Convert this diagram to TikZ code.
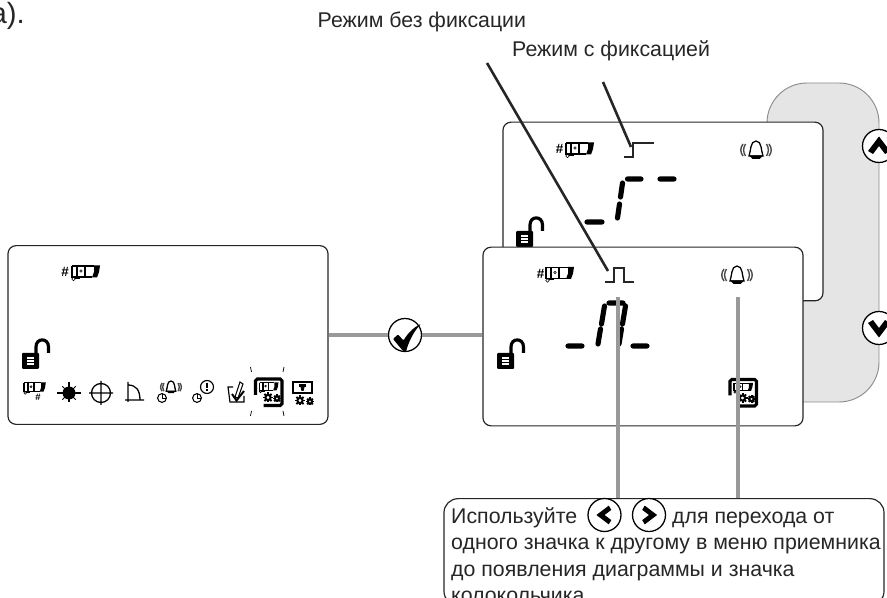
\documentclass[tikz,border=0pt]{standalone}
\usepackage{fontspec}
\setmainfont{Liberation Sans}
\tikzset{
  lcdPanel/.style={rectangle, draw=black!85, fill=white, line width=1pt, rounded corners=0.24cm, minimum width=9.6cm, minimum height=5.36cm, inner sep=0pt},
  sidePanel/.style={draw=black!45, fill=black!10, line width=0.8pt, rounded corners=1.2cm},
  btnCircle/.style={circle, draw=black, fill=white, line width=1.1pt, minimum size=0.99cm, inner sep=0pt},
  helpBox/.style={rectangle, draw=black!85, fill=white, line width=1pt, rounded corners=0.42cm, minimum width=13.2cm, minimum height=3.2cm, inner sep=0pt},
  leadBlack/.style={draw=black!85, line width=2.2pt},
  leadGrey/.style={draw=black!40, line width=2.8pt},
  segLine/.style={line width=4.4pt, line cap=round},
  helpText/.style={anchor=base west, inner sep=0pt, font=\fontsize{18.2}{22.6}\selectfont, text=black!85},
  hashText/.style={inner sep=0pt, font=\bfseries\fontsize{11.5}{12}\selectfont},
  % icons, origin at the top left corner of each one
  lockIcon/.pic={
    \fill[black, rounded corners=0.03cm] (0,0) -- (0,16) -- (17,16) -- (17,0) -- cycle;
    \foreach \barY in {5,8,11} { \draw[white, line width=1pt] (5,\barY) -- (12,\barY); }
    \draw[black, line width=2.7pt] (14,0) -- (14,-6) .. controls (14,-15.5) and (26.5,-15.5) .. (26.5,-6) -- (26.5,0);
  },
  camIcon/.pic={
    \draw[black, line width=1.1pt] (0,1) -- (22,1) (0,1) -- (0,12) -- (20,12);
    \draw[black, line width=1.1pt] (5,1) -- (5,12) (13,1) -- (13,12);
    \draw[black, line width=0.5pt] (9,6) circle (1.3);
    \fill[black] (22,0.5) -- (28,0.5) -- (27,7) -- (25,12.5) -- (20,12.5) -- (22,7) -- cycle;
    \draw[black, line width=0.5pt] (1.5,14) circle (1.7);
    \draw[black, line width=1.2pt] (3,13) -- (8,13);
  },
  bellIcon/.pic={
    \draw[black, line width=1.1pt] (-7,15) .. controls (-5,10) and (-6,0) .. (0,0) .. controls (6,0) and (5,10) .. (7,15) -- cycle;
    \fill[black] (-7,14.5) -- (7,14.5) -- (3.5,18) -- (-3.5,18) -- cycle;
    \foreach \waveS in {-1,1} {
      \draw[black!70, line width=1.2pt] (\waveS*10.5,3) .. controls (\waveS*13,7) and (\waveS*13,11) .. (\waveS*10.5,15);
      \draw[black!70, line width=1.2pt] (\waveS*13,3) .. controls (\waveS*16,7) and (\waveS*16,11) .. (\waveS*13,15);
    }
  },
  gearIcon/.pic={
    \foreach \toothA in {0,45,...,315} { \draw[black, line width=1.7pt] (\toothA:1.5) -- (\toothA:5); }
    \draw[black, fill=white, line width=1.7pt] (0,0) circle (2.6);
  },
  clockIcon/.pic={
    \draw[black, line width=0.9pt] (0,0) circle (4.4);
    \draw[black, line width=0.8pt] (0,-4) -- (0,0) -- (4,0);
  },
  frameIcon/.pic={
    \draw[black, line width=2.6pt, rounded corners=0.05cm] (1,17) -- (1,1) -- (27.5,1) -- (27.5,27.5) -- (9,27.5);
    \pic[scale=0.68] at (5,4) {camIcon};
    \pic at (13.5,19.5) {gearIcon};
    \pic[scale=0.8] at (22.5,20.5) {gearIcon};
  },
  chevIcon/.pic={
    \fill[black] (0,-9.5) -- (11,5) -- (6,8) -- (0,0) -- (-6,8) -- (-11,5) -- cycle;
  },
}
\begin{document}
\begin{tikzpicture}[x=0.03cm, y=-0.03cm]
  \clip (0,0) rectangle (887,598);

  \node[inner sep=0pt, anchor=base east, font=\fontsize{25}{28}\selectfont, text=black!85] (pageEnd) at (25,24) {а).};
  \node[helpText] (pulseLabel) at (317.5,28) {Режим без фиксации};
  \node[helpText] (stepLabel) at (512,57) {Режим с фиксацией};

  % side panel with the two buttons
  \draw[sidePanel] (767,130) -- (767,83) -- (879,83) -- (879,402) -- (790,402);
  \node[btnCircle] (upBtn) at (879,146) {};
  \node[btnCircle] (downBtn) at (879,328) {};
  \pic at (upBtn) {chevIcon};
  \pic[rotate=180] at (downBtn) {chevIcon};

  \node[lcdPanel] (backPanel) at (663,211.5) {};
  \node[lcdPanel] (leftPanel) at (168,335) {};

  % back screen
  \node[hashText] (backHash) at (559.5,149) {\#};
  \pic at (566,142) {camIcon};
  \draw[black!85, line width=1.1pt] (624,157) -- (633,157) -- (633,143) -- (654,143);
  \pic at (756,141) {bellIcon};
  \draw[segLine] (587,222) -- (602,222) (622.5,183) -- (620.5,197) (619.5,204) -- (617.5,218) (627.5,179) -- (641,179) (660,179) -- (674,179);
  \pic at (516,231) {lockIcon};

  \node[lcdPanel] (frontPanel) at (643,336.5) {};

  % front screen
  \node[hashText] (frontHash) at (540.5,273.5) {\#};
  \pic at (546,266.5) {camIcon};
  \draw[black!85, line width=1.1pt] (605,282) -- (614,282) -- (614,268) -- (624,268) -- (624,282) -- (634,282);
  \pic at (737,266) {bellIcon};
  \draw[segLine] (568,346) -- (582,346) (633,346) -- (647,346) (609,303) -- (623,303) (604.5,306) -- (601.5,324) (600.5,329) -- (598,344) (625.5,306) -- (622.5,324) (621.5,329) -- (619,344);
  \pic at (497,353) {lockIcon};
  \pic at (729,378.5) {frameIcon};

  % left screen
  \node[hashText] (leftHash) at (65,272) {\#};
  \pic at (72,265) {camIcon};
  \pic at (22,353) {lockIcon};
  \pic[scale=0.78] at (24,382) {camIcon};
  \node[hashText, font=\bfseries\fontsize{8}{8}\selectfont] (rowHash) at (38,397) {\#};
  % sun
  \fill[black] (69,393) circle (6.5);
  \foreach \rayA in {0,45,...,315} { \draw[black, line width=0.9pt] (69,393) -- ++(\rayA:9.5); }
  \draw[black, line width=0.9pt] (57,393) -- (81,393) (69,382) -- (69,402);
  % target
  \draw[black, line width=1.1pt] (101,393) circle (9.5) (89,393) -- (113,393) (101,381) -- (101,405);
  % gate
  \draw[black, line width=1.1pt] (128,382) -- (128,402) (125,400) -- (144,400) (128,385) .. controls (136,385) and (140,390) .. (140,400);
  % bell with clock
  \pic[scale=0.68] at (171,381) {bellIcon};
  \pic at (162,398) {clockIcon};
  % clock with warning
  \draw[black, line width=1pt] (207,387) circle (6.5);
  \draw[black, line width=1.5pt] (207,383) -- (207,388) (207,389.5) -- (207,391);
  \pic at (197,398) {clockIcon};
  % note with tick
  \draw[black, line width=1pt] (233,387) -- (228,387) -- (230,402) -- (244,402) -- (244,396);
  \draw[black, line width=0.9pt] (235,397) -- (240,382) -- (243,384) -- (238,398) -- cycle;
  \draw[black, line width=1.7pt] (232,394) -- (236.5,400.5) -- (244,391);
  % selected icon
  \pic at (254.5,378) {frameIcon};
  \draw[black, line width=0.6pt] (250.5,367) -- (251.5,372) (284,367) -- (283,372) (251.5,411) -- (250.5,416) (283,411) -- (284,416);
  % last icon
  \draw[black, line width=1.1pt] (293,382) rectangle (312,393);
  \fill[black] (299,384) rectangle (306,387);
  \fill[black] (300.5,387) -- (304.5,387) -- (303.5,391) -- (301.5,391) -- cycle;
  \pic at (300,400.5) {gearIcon};
  \pic[scale=0.8] at (310,401.5) {gearIcon};

  % check button between the screens
  \node[btnCircle] (checkBtn) at (405,335) {};
  \draw[leadGrey] (leftPanel.east) -- (checkBtn.west);
  \draw[leadGrey] (checkBtn.east) -- (checkBtn.east -| frontPanel.west);
  \fill[black, rounded corners=0.03cm] (393,339) -- (398,334.5) -- (403.5,340.5) .. controls (408,333) and (414,327) .. (421,324) .. controls (414,331) and (409,341) .. (406,351.5) -- (403,351) -- cycle;

  % leaders
  \coordinate (pulseTail) at (487,63);
  \coordinate (pulseTip) at (608,271);
  \coordinate (stepTail) at (603,82);
  \coordinate (stepTip) at (631,147);
  \draw[leadBlack] (pulseTail) -- (pulseTip);
  \draw[leadBlack] (stepTail) -- (stepTip);

  \node[helpBox] (helpFrame) at (664,552) {};
  \coordinate (pulseDrop) at (618,297);
  \coordinate (bellDrop) at (738,297);
  \draw[leadGrey] (pulseDrop) -- (pulseDrop |- helpFrame.north);
  \draw[leadGrey] (bellDrop) -- (bellDrop |- helpFrame.north);

  \node[helpText] (helpStart) at (451,523) {Используйте};
  \node[btnCircle] (leftBtn) at (604.5,515) {};
  \node[btnCircle] (rightBtn) at (649,515) {};
  \pic[rotate=90, scale=0.85] at (leftBtn) {chevIcon};
  \pic[rotate=-90, scale=0.85] at (rightBtn) {chevIcon};
  \node[helpText] (helpEnd) at (672,523) {для перехода от};
  \node[helpText] (helpLineB) at (451,549.5) {одного значка к другому в меню приемника};
  \node[helpText] (helpLineC) at (451,576) {до появления диаграммы и значка};
  \node[helpText] (helpLineD) at (451,602) {колокольчика};
\end{tikzpicture}
\end{document}
